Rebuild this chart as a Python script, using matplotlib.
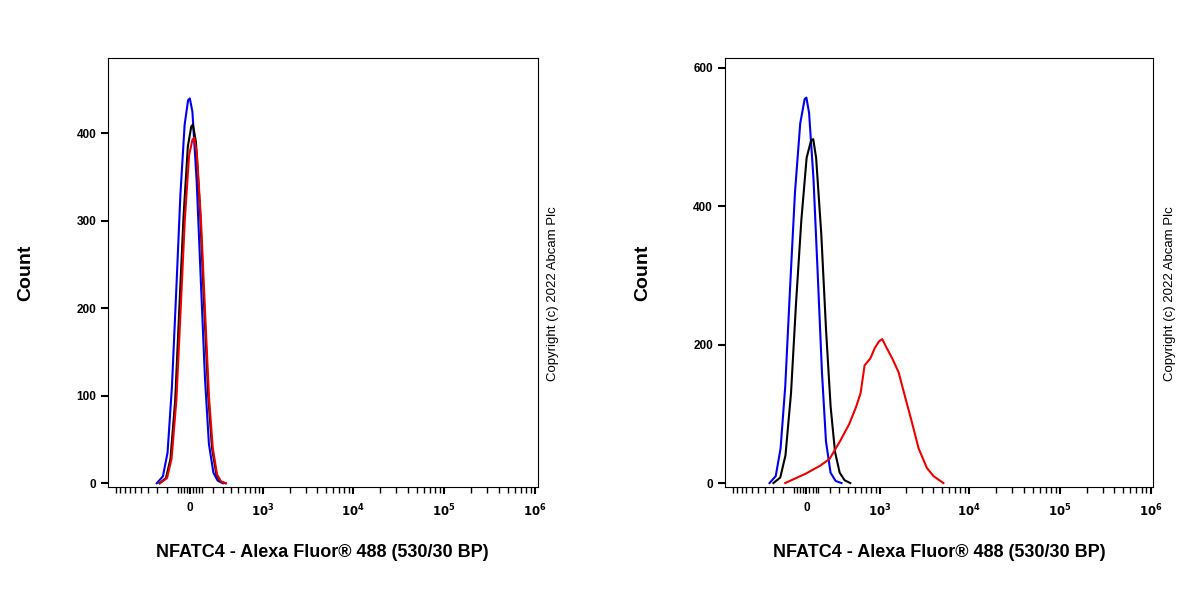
import numpy as np
import matplotlib
matplotlib.use("Agg")
import matplotlib.pyplot as plt
from matplotlib.scale import FuncScale
from matplotlib.ticker import FixedLocator, FixedFormatter

plt.rcParams['font.family'] = 'Liberation Sans'
plt.rcParams['font.weight'] = 'bold'

C = 320.0
fwd = lambda x: np.arcsinh(np.asarray(x) / C)
inv = lambda y: C * np.sinh(np.asarray(y))

# ---- data (x in fluorescence units, y in counts) ----
L_blue_x = [-300, -235, -190, -150, -112, -77, -42, -14, 0, 21, 56, 91, 126, 161, 203, 245, 300]
L_blue_y = [0, 8, 35, 110, 220, 330, 410, 438, 440, 425, 345, 230, 120, 45, 12, 3, 0]
L_black_x = [-270, -205, -163, -121, -86, -51, -16, 12, 25, 50, 85, 120, 155, 190, 232, 274, 330]
L_black_y = [0, 6, 28, 95, 200, 305, 385, 408, 410, 390, 310, 200, 100, 40, 10, 2, 0]
L_red_x = [-265, -195, -153, -111, -76, -41, -6, 22, 36, 57, 92, 127, 162, 197, 239, 281, 335]
L_red_y = [0, 6, 28, 95, 195, 300, 375, 393, 395, 378, 300, 195, 98, 40, 10, 2, 0]

R_blue_x = [-345, -275, -225, -180, -137, -94, -50, -14, 0, 22, 58, 94, 130, 166, 209, 260, 325]
R_blue_y = [0, 10, 50, 140, 280, 420, 520, 555, 557, 535, 440, 300, 160, 60, 15, 3, 0]
R_black_x = [-300, -228, -178, -128, -85, -41, 2, 38, 56, 80, 124, 167, 210, 254, 304, 362, 435]
R_black_y = [0, 8, 40, 130, 260, 380, 470, 495, 497, 470, 360, 220, 110, 45, 15, 4, 0]
R_red_x = [-180, -100, 0, 60, 114, 200, 306, 420, 520, 594, 665, 780, 880, 990, 1077, 1200, 1400, 1650, 1900, 2300, 2760, 3400, 4030, 5190]
R_red_y = [0, 6, 14, 20, 25, 35, 60, 85, 110, 130, 170, 180, 195, 205, 208, 196, 180, 160, 130, 90, 50, 22, 10, 0]

major_ticks = [0, 1e3, 1e4, 1e5, 1e6]
major_labels = ['0', '$\\mathbf{10^3}$', '$\\mathbf{10^4}$', '$\\mathbf{10^5}$', '$\\mathbf{10^6}$']
minor_ticks = ([-k * 100 for k in range(1, 10)] + [-1000] + [k * 100 for k in range(1, 10)]
               + [-k * 25 for k in range(1, 4)] + [k * 25 for k in range(1, 4)]
               + [m * 10 ** e for e in (3, 4, 5) for m in range(2, 10)])

fig = plt.figure(figsize=(12, 6), dpi=100)

def setup(ax, ymax, yticks, ylim_lo):
    ax.set_xscale(FuncScale(ax, (fwd, inv)))
    ax.set_xlim(-1250, 1.07e6)
    ax.set_ylim(ylim_lo, ymax)
    ax.xaxis.set_major_locator(FixedLocator(major_ticks))
    ax.xaxis.set_major_formatter(FixedFormatter(major_labels))
    ax.xaxis.set_minor_locator(FixedLocator(minor_ticks))
    ax.set_yticks(yticks)
    ax.tick_params(axis='both', which='major', labelsize=8.5, length=5, width=1.5, direction='out')
    ax.tick_params(axis='x', which='minor', length=4, width=1, direction='out')
    ax.tick_params(axis='x', which='major', pad=6)
    for s in ax.spines.values():
        s.set_linewidth(0.8)
    ax.set_ylabel('Count', fontsize=14, fontweight='bold', labelpad=30)
    ax.set_xlabel('NFATC4 - Alexa Fluor® 488 (530/30 BP)', fontsize=13, fontweight='bold', labelpad=18)

ax1 = fig.add_axes([0.09, 0.188, 0.358, 0.715])
setup(ax1, 486, [0, 100, 200, 300, 400], -4.5)
ax1.plot(L_blue_x, L_blue_y, color='#0000ee', lw=1.5)
ax1.plot(L_black_x, L_black_y, color='black', lw=1.5)
ax1.plot(L_red_x, L_red_y, color='#ee0000', lw=1.5)

ax2 = fig.add_axes([0.604, 0.188, 0.357, 0.715])
setup(ax2, 614, [0, 200, 400, 600], -6)
ax2.plot(R_blue_x, R_blue_y, color='#0000ee', lw=1.5)
ax2.plot(R_black_x, R_black_y, color='black', lw=1.5)
ax2.plot(R_red_x, R_red_y, color='#ee0000', lw=1.5)

for x in (0.461, 0.975):
    fig.text(x, 0.51, 'Copyright (c) 2022 Abcam Plc', rotation=90, fontsize=9.5,
             fontweight='normal', ha='center', va='center')

fig.savefig('out.png', dpi=100)
